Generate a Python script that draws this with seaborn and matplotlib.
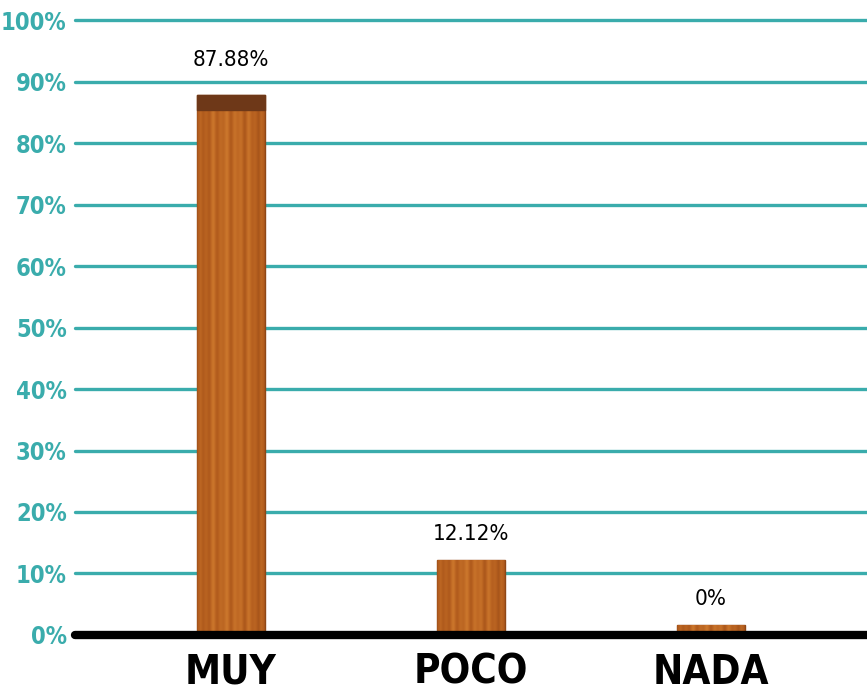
import numpy as np
import pandas as pd
import matplotlib
matplotlib.use("Agg")
import matplotlib.pyplot as plt
import seaborn as sns

categorias = ["MUY", "POCO", "NADA"]
porcentajes = [87.88, 12.12, 0.0]
etiquetas = ["87.88%", "12.12%", "0%"]
ticks_y = [0, 10, 20, 30, 40, 50, 60, 70, 80, 90, 100]

sns.set_style("white")
plt.rcParams["font.family"] = ["DejaVu Sans"]
plt.rcParams["font.stretch"] = "condensed"

teal = "#3aacac"
madera = "#b8621f"

df = pd.DataFrame({"categoria": categorias, "porcentaje": porcentajes})
# la tabla de "nada" se dibuja con un grosor minimo visible
df["alto"] = df["porcentaje"].clip(lower=1.6)

fig = plt.figure(figsize=(8.67, 7), dpi=100)
ax = fig.add_axes([0.0865, 0.093, 0.9135, 0.878])

for t in ticks_y[1:]:
    ax.axhline(t, color=teal, lw=2.4, zorder=0, clip_on=False)

sns.barplot(data=df, x="categoria", y="alto", ax=ax, color=madera,
            width=0.28, saturation=1, edgecolor="#8f4716", linewidth=1.0, zorder=2)

# textura de madera: degradado recortado a cada barra
u = np.linspace(0, 1, 80)
vet = 0.82 + 0.12 * np.sin(u * 47) * np.cos(u * 13) + 0.1 * np.sin(np.pi * u) - 0.08 * (np.abs(u - 0.5) > 0.45)
tex = np.outer(np.ones(8), vet)
cmap = sns.blend_palette(["#8a4214", "#b45e1e", "#cf7a2e"], as_cmap=True)
for p in ax.patches:
    x0, y0 = p.get_x(), p.get_y()
    w, h = p.get_width(), p.get_height()
    im = ax.imshow(tex, cmap=cmap, extent=[x0, x0 + w, y0, y0 + h],
                   aspect="auto", zorder=2.5, vmin=0.6, vmax=1.05)
    im.set_clip_path(p)
    if h > 20:
        ax.fill_between([x0, x0 + w], h - 2.4, h, color="#6e3818", zorder=2.6)

ax.axhline(0, color="black", lw=6, zorder=3, clip_on=False)

for i, (v, lab) in enumerate(zip(df["alto"], etiquetas)):
    off = 4.0 if v > 20 else 2.6
    ax.text(i, v + off, lab, ha="center", va="bottom", fontsize=16,
            color="black", fontstretch="condensed")

ax.set_xlim(-0.65, 2.65)
ax.set_ylim(0, 100)
ax.set_yticks(ticks_y)
ax.set_yticklabels([f"{t}%" for t in ticks_y], color=teal, fontsize=17,
                   fontweight="bold", fontstretch="condensed")
ax.tick_params(axis="y", length=0, pad=6)
ax.tick_params(axis="x", length=0, pad=13)
for lab in ax.get_xticklabels():
    lab.set_fontsize(29)
    lab.set_fontweight("bold")
    lab.set_fontstretch("condensed")
    lab.set_color("black")
ax.set_xlabel("")
ax.set_ylabel("")
sns.despine(ax=ax, left=True, bottom=True)

fig.savefig("out.png", dpi=100)
